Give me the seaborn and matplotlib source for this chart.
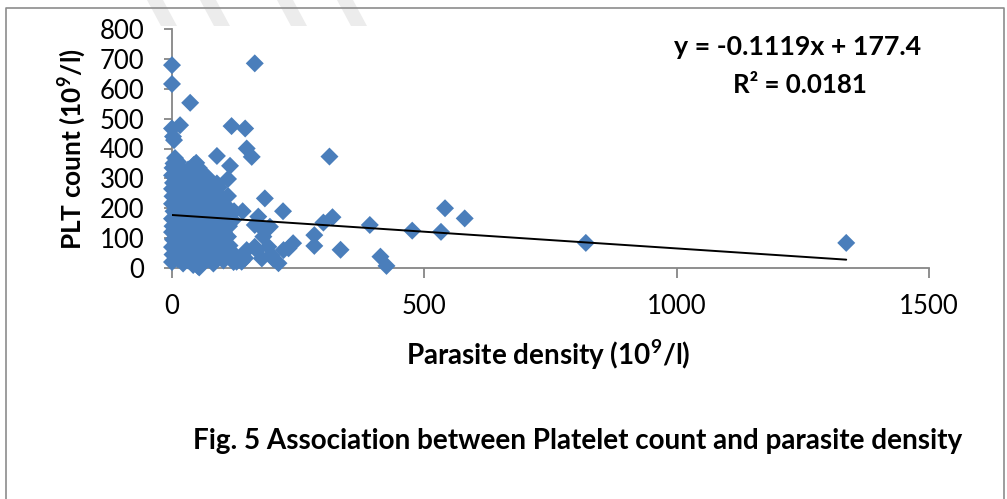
import matplotlib
matplotlib.use("Agg")
import matplotlib.pyplot as plt
import seaborn as sns
import pandas as pd
from matplotlib.lines import Line2D
from matplotlib.patches import Polygon

# ---------------- data ----------------
parasite_density = [
    # isolated high points
    0, 0, 36, 0, 16, 2, 4, 164, 118, 145, 148, 158, 89, 312, 115, 6, 48, 111, 184, 220, 111, 89, 69,
    # right tail
    318, 300, 392, 476, 541, 580, 533, 820, 1336, 282, 282, 334, 413, 425,
    # scattered around cluster edge
    240, 221, 201, 128, 145, 54, 52, 82, 164, 184, 178, 194, 171, 181, 140, 164, 191, 197, 211, 231, 138, 178, 168, 148,
    # dense cluster
    0, 1, 0, 2, 0, 1, 0, 3, 0, 1, 0, 2, 0, 1, 3,
    11, 13, 10, 12, 14, 11, 13, 10, 12, 14, 11, 13, 10, 12,
    22, 24, 21, 23, 20, 22, 24, 21, 23, 25, 22, 20, 24,
    32, 34, 31, 33, 30, 32, 35, 31, 33, 30, 34, 32,
    42, 44, 41, 43, 40, 42, 45, 41, 43, 40, 44, 42, 43,
    52, 54, 51, 53, 50, 52, 55, 51, 53, 50, 54, 52, 53,
    62, 64, 61, 63, 60, 62, 65, 61, 63, 60, 64,
    72, 74, 71, 73, 70, 72, 75, 71, 73, 70,
    82, 84, 81, 83, 80, 82, 85, 81, 83, 80,
    92, 94, 91, 93, 90, 92, 95, 91, 93,
    102, 104, 101, 103, 100, 102, 105, 101,
    112, 114, 111, 113, 110, 112,
    122, 124, 121, 123,
]
plt_count = [
    679, 616, 553, 467, 478, 440, 428, 685, 475, 467, 400, 372, 375, 373, 342, 368, 352, 298, 233, 190, 241, 283, 306,
    170, 152, 144, 125, 200, 166, 121, 84, 84, 110, 74, 61, 38, 7,
    83, 60, 30, 21, 33, 2, 10, 21, 144, 127, 133, 138, 172, 105, 190, 71, 71, 43, 16, 66, 21, 32, 60, 60,
    20, 45, 70, 95, 120, 140, 165, 190, 215, 240, 265, 285, 310, 335, 350,
    30, 60, 85, 110, 135, 160, 185, 210, 235, 260, 280, 300, 325, 355,
    15, 40, 75, 100, 125, 150, 175, 200, 225, 250, 270, 295, 320,
    25, 55, 90, 115, 145, 170, 195, 220, 245, 275, 305, 330,
    10, 50, 80, 105, 130, 160, 185, 210, 240, 265, 290, 315, 345,
    5, 35, 65, 95, 125, 150, 180, 205, 230, 260, 285, 310, 335,
    20, 45, 75, 110, 140, 165, 195, 225, 250, 275, 300,
    30, 60, 90, 120, 150, 175, 205, 235, 260, 290,
    15, 50, 80, 110, 140, 170, 200, 230, 255, 280,
    35, 65, 100, 130, 160, 185, 215, 240, 270,
    25, 55, 85, 120, 150, 180, 210, 230,
    40, 75, 105, 140, 170, 200,
    20, 45, 160, 190,
]
trend_slope = -0.1119
trend_intercept = 177.4
x_ticks = [0, 500, 1000, 1500]
y_ticks = [0, 100, 200, 300, 400, 500, 600, 700, 800]
equation_text = "y = -0.1119x + 177.4"
r2_text = "R² = 0.0181"
x_label = r"Parasite density (10$^{\mathbf{9}}$/l)"
y_label = r"PLT count (10$^{\mathbf{9}}$/l)"
caption = "Fig. 5 Association between Platelet count and parasite density"

# ---------------- figure ----------------
sns.set_theme(style="ticks")
plt.rcParams["font.family"] = ["Lato", "DejaVu Sans"]
plt.rcParams["mathtext.fontset"] = "custom"
plt.rcParams["mathtext.rm"] = "Lato"
plt.rcParams["mathtext.bf"] = "Lato:bold"

W, H = 1007, 499
fig = plt.figure(figsize=(W / 100, H / 100), dpi=100)
fig.patch.set_facecolor("white")


def fx(px):
    return px / W


def fy(py):
    return 1 - py / H


ax = fig.add_axes([fx(172), fy(268), (929 - 172) / W, (268 - 29) / H])
ax.patch.set_alpha(0)

df = pd.DataFrame({"x": parasite_density, "y": plt_count})
sns.scatterplot(data=df, x="x", y="y", marker="D", s=84, color="#4A7EBB",
                edgecolor="none", linewidth=0, ax=ax, clip_on=False, zorder=3)

tx = [0, max(parasite_density)]
ty = [trend_slope * v + trend_intercept for v in tx]
sns.lineplot(x=tx, y=ty, color="black", linewidth=1.4, ax=ax, zorder=4)

ax.set_xlim(x_ticks[0], x_ticks[-1])
ax.set_ylim(y_ticks[0], y_ticks[-1])
ax.set_xticks(x_ticks)
ax.set_yticks(y_ticks)
ax.set_xticklabels([str(v) for v in x_ticks])
ax.set_yticklabels([str(v) for v in y_ticks])
for s in ["top", "right"]:
    ax.spines[s].set_visible(False)
for s in ["left", "bottom"]:
    ax.spines[s].set_color("#868686")
    ax.spines[s].set_linewidth(1.3)
    ax.spines[s].set_zorder(2)
ax.tick_params(axis="both", direction="out", color="#868686", width=1.3,
               labelsize=18.5, labelcolor="black", left=True, bottom=True)
ax.tick_params(axis="y", length=6, pad=14)
ax.tick_params(axis="x", length=7, pad=12)

ax.set_xlabel(x_label, fontsize=17, fontweight="bold", color="black")
ax.xaxis.set_label_coords(0.4967, (268 - 355) / 239)
ax.xaxis.label.set_va("center")
ax.set_ylabel(y_label, fontsize=17, fontweight="bold", color="black")
ax.yaxis.set_label_coords((72 - 172) / 757, (268 - 149) / 239)
ax.yaxis.label.set_va("center")
ax.yaxis.label.set_ha("center")

t_eq = fig.text(fx(798), fy(55), equation_text, ha="center", va="baseline",
                fontsize=17, fontweight="bold", color="black")
t_r2 = fig.text(fx(800), fy(93), r2_text, ha="center", va="baseline",
                fontsize=17, fontweight="bold", color="black")
t_cap = fig.text(fx(578), fy(449), caption, ha="center", va="baseline",
                 fontsize=17, fontweight="bold", color="black")

# fit text sizes to the widths seen in the reference
renderer = fig.canvas.get_renderer()


def fit(t, target, vertical=False):
    bb = t.get_window_extent(renderer)
    cur = bb.height if vertical else bb.width
    t.set_fontsize(t.get_fontsize() * target / cur)


fit(t_eq, 248)
fit(t_r2, 134)
fit(t_cap, 770)
fit(ax.xaxis.label, 285)
fit(ax.yaxis.label, 202, vertical=True)

# outer frame of the figure
fig.add_artist(Line2D([fx(6), fx(6), fx(1004), fx(1004)], [0, fy(8), fy(8), 0],
                      transform=fig.transFigure, color="#8c8c8c", linewidth=1.2))

# faint watermark stripes at the top
for x0 in [147, 200, 277, 337]:
    poly = Polygon([(fx(x0), fy(0)), (fx(x0 + 16), fy(0)), (fx(x0 + 30), fy(26)), (fx(x0 + 14), fy(26))],
                   closed=True, transform=fig.transFigure, facecolor="#ececec",
                   edgecolor="none", zorder=-1)
    fig.add_artist(poly)

fig.savefig("out.png", dpi=100)
